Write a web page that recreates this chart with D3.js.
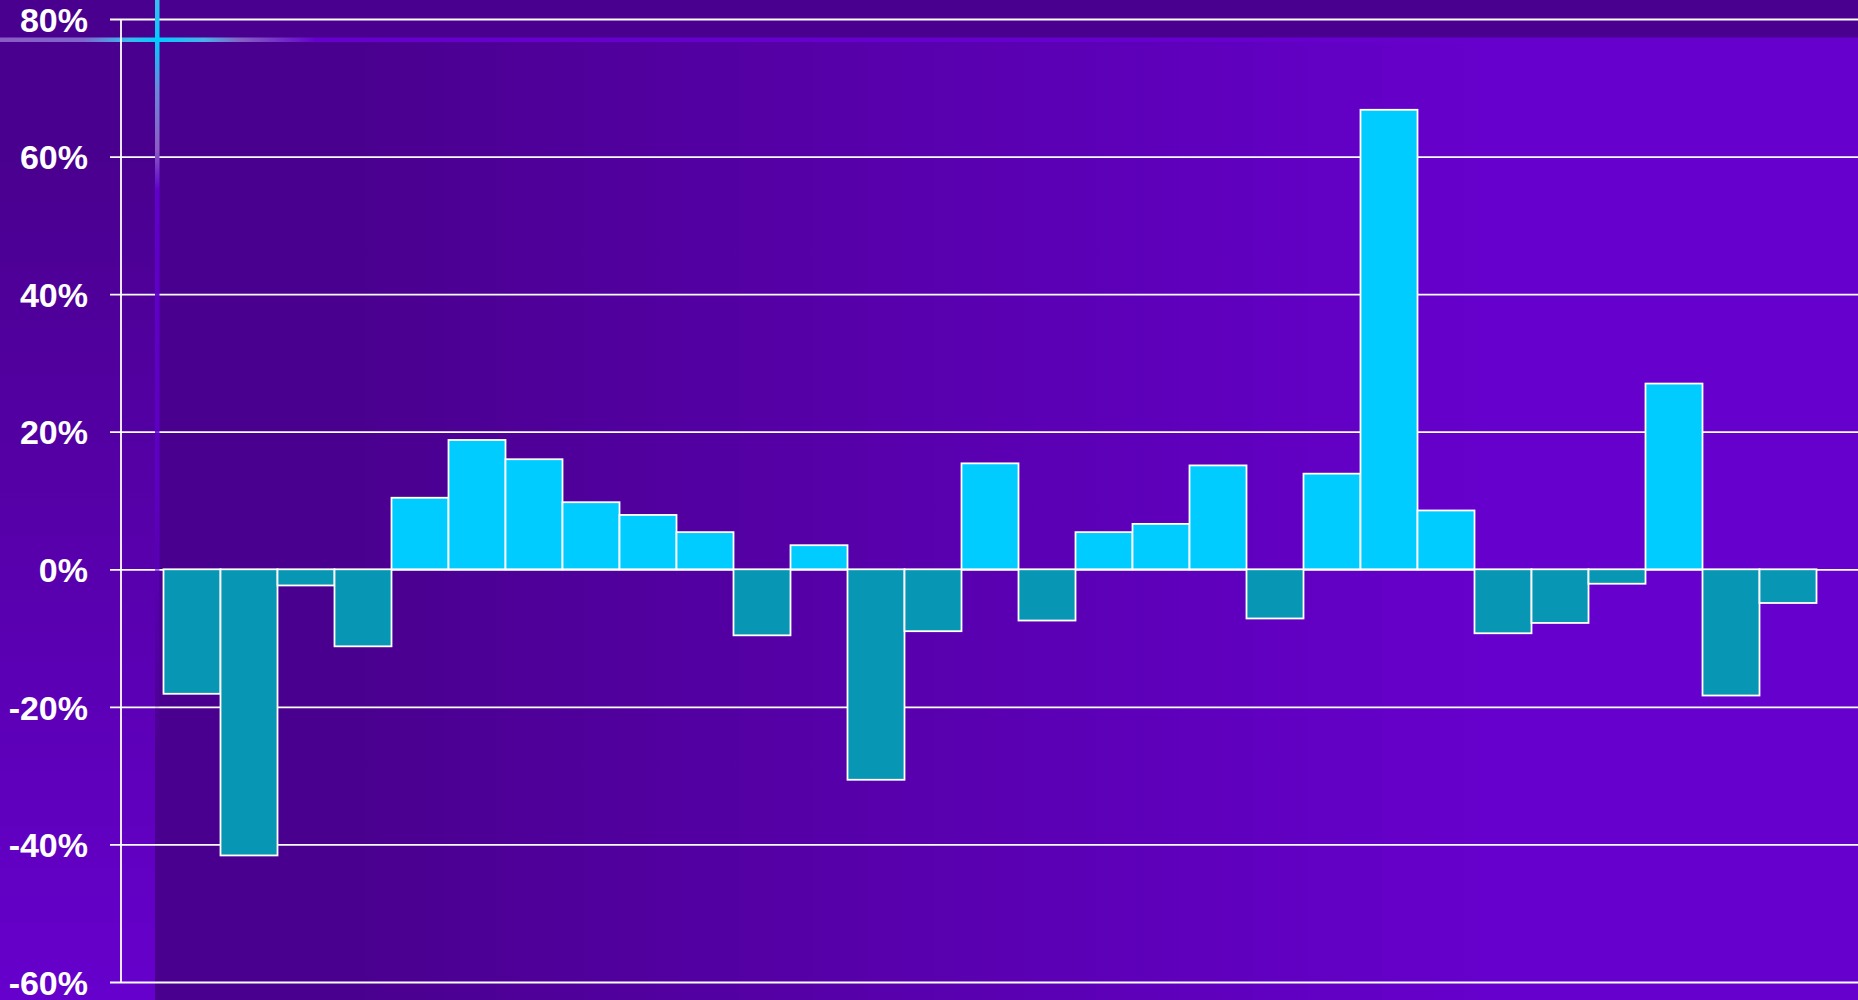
<!DOCTYPE html>
<html>
<head>
<meta charset="utf-8">
<script src="https://cdn.jsdelivr.net/npm/d3@7"></script>
<style>
  html, body { margin: 0; padding: 0; background: #4a008f; overflow: hidden; }
  svg { display: block; }
  .tick text { font-family: "Liberation Sans", Arial, sans-serif; font-weight: bold; }
</style>
</head>
<body>
<div id="chart"></div>
<script>
// periods along the x axis (no labels shown on the chart)
const periods = ["1", "2", "3", "4", "5", "6", "7", "8", "9", "10",
                 "11", "12", "13", "14", "15", "16", "17", "18", "19", "20",
                 "21", "22", "23", "24", "25", "26", "27", "28", "29"];

// percent change per period
const changes = [-18.1, -41.6, -2.35, -11.2, 10.4, 18.8, 16.0, 9.75, 7.9, 5.4,
                 -9.6, 3.5, -30.6, -9.0, 15.4, -7.45, 5.4, 6.6, 15.1, -7.15,
                 13.9, 66.8, 8.55, -9.3, -7.8, -2.1, 27.0, -18.35, -4.9];

const yTicks = [-60, -40, -20, 0, 20, 40, 60, 80];

const W = 1858, H = 1000;

const svg = d3.select("#chart").append("svg")
  .attr("width", W)
  .attr("height", H);

const defs = svg.append("defs");

// plot background: dark on the left, lighter violet on the right
const plotGrad = defs.append("linearGradient")
  .attr("id", "plotGrad")
  .attr("x1", "0%").attr("x2", "100%").attr("y1", "0%").attr("y2", "0%");
plotGrad.append("stop").attr("offset", "0%").attr("stop-color", "#4a008f");
plotGrad.append("stop").attr("offset", "12%").attr("stop-color", "#4a008f");
plotGrad.append("stop").attr("offset", "78%").attr("stop-color", "#6600cc");
plotGrad.append("stop").attr("offset", "100%").attr("stop-color", "#6600cc");

// left strip: dark at top, lighter at the bottom
const stripGrad = defs.append("linearGradient")
  .attr("id", "stripGrad")
  .attr("x1", "0%").attr("x2", "0%").attr("y1", "0%").attr("y2", "100%");
stripGrad.append("stop").attr("offset", "0%").attr("stop-color", "#4a008f");
stripGrad.append("stop").attr("offset", "12%").attr("stop-color", "#4a008f");
stripGrad.append("stop").attr("offset", "100%").attr("stop-color", "#6600cc");

// decorative cross lines
const hGrad = defs.append("linearGradient")
  .attr("id", "hGrad")
  .attr("gradientUnits", "userSpaceOnUse")
  .attr("x1", 0).attr("x2", W).attr("y1", 0).attr("y2", 0);
[[0, "#8a5cc4"], [0.045, "#7f66cc"], [0.07, "#38bcf0"], [0.085, "#00ccff"],
 [0.11, "#4cb0ea"], [0.13, "#8460c4"], [0.17, "#6600cc"], [1, "#6600cc"]]
  .forEach(s => hGrad.append("stop").attr("offset", s[0]).attr("stop-color", s[1]));

const vGrad = defs.append("linearGradient")
  .attr("id", "vGrad")
  .attr("gradientUnits", "userSpaceOnUse")
  .attr("x1", 0).attr("x2", 0).attr("y1", 0).attr("y2", H);
[[0, "#3cbcf0", 1], [0.04, "#00ccff", 1], [0.09, "#6a88d8", 1], [0.15, "#8a5cc4", 1],
 [0.19, "#6000cc", 1], [0.5, "#6000cc", 0.8], [0.75, "#6600cc", 0]]
  .forEach(s => vGrad.append("stop").attr("offset", s[0])
    .attr("stop-color", s[1]).attr("stop-opacity", s[2]));

// backgrounds
svg.append("rect").attr("x", 0).attr("y", 0).attr("width", W).attr("height", H)
  .attr("fill", "#4a008f");
svg.append("rect").attr("x", 0).attr("y", 42).attr("width", 155).attr("height", H - 42)
  .attr("fill", "url(#stripGrad)");
svg.append("rect").attr("x", 155).attr("y", 42).attr("width", W - 155).attr("height", H - 42)
  .attr("fill", "url(#plotGrad)");

// scales
const y = d3.scaleLinear().domain([-60, 80]).range([982, 19]);
const x = d3.scaleBand().domain(periods).range([163.5, 1816.5]).padding(0);

// gridlines + tick labels
const gridX = 110;
const yAxis = svg.append("g")
  .attr("transform", `translate(${gridX},0)`)
  .call(d3.axisLeft(y)
    .tickValues(yTicks)
    .tickSize(-(W - gridX))
    .tickPadding(22)
    .tickFormat(d => d + "%"));
yAxis.select(".domain").remove();
yAxis.selectAll(".tick line")
  .attr("stroke", "#ffffff")
  .attr("stroke-width", 1.8);
yAxis.selectAll(".tick text")
  .attr("fill", "#ffffff")
  .attr("font-size", 34)
  .attr("dy", "0.36em");

// decorative horizontal line
svg.append("rect")
  .attr("x", 0).attr("y", 37.5).attr("width", W).attr("height", 4.5)
  .attr("fill", "url(#hGrad)");

// bars
svg.append("g").selectAll("rect")
  .data(changes)
  .join("rect")
  .attr("x", (d, i) => x(periods[i]))
  .attr("width", x.bandwidth())
  .attr("y", d => y(Math.max(0, d)))
  .attr("height", d => Math.abs(y(d) - y(0)))
  .attr("fill", d => d >= 0 ? "#00ccff" : "#0797b4")
  .attr("stroke", "#ffffff")
  .attr("stroke-width", 1.8);

// vertical axis line
svg.append("line")
  .attr("x1", 121).attr("x2", 121)
  .attr("y1", y(80)).attr("y2", y(-60))
  .attr("stroke", "#ffffff")
  .attr("stroke-width", 1.8);

// decorative vertical line
svg.append("rect")
  .attr("x", 155).attr("y", 0).attr("width", 4.5).attr("height", H)
  .attr("fill", "url(#vGrad)");
</script>
</body>
</html>
